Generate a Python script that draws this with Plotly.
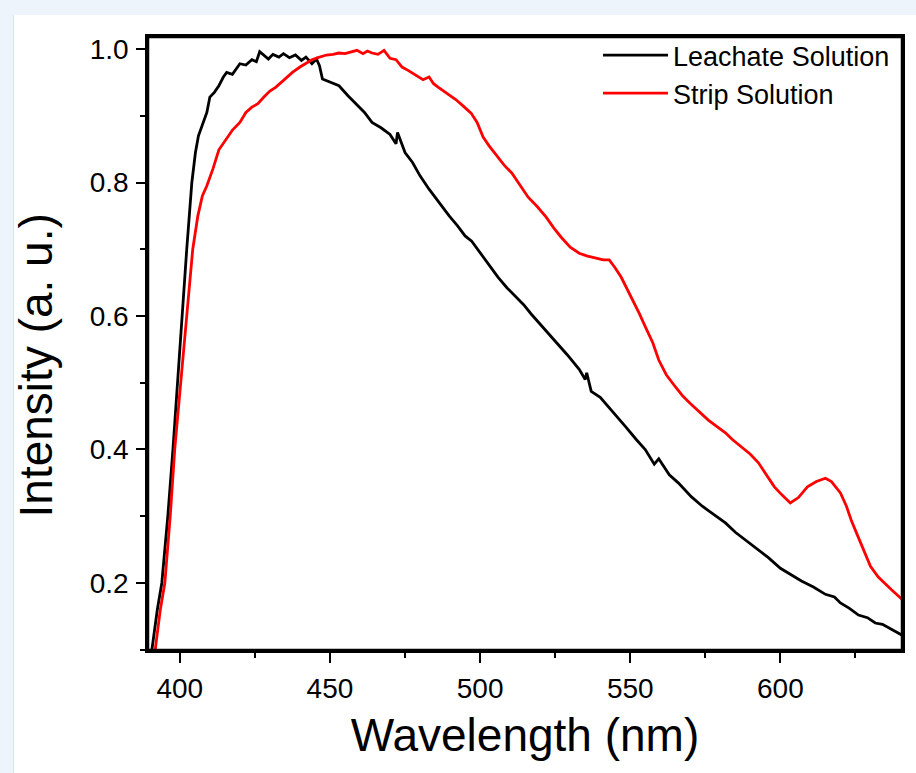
import plotly.graph_objects as go

# ---- data ----
lam_leach = [390.7, 392.5, 394, 396, 397.7, 399.2, 400.7, 402.3, 404, 405.2, 406.2, 407.5, 409, 410,
             411.5, 413, 414.5, 415.6, 417.5, 420, 422, 424, 425.5, 426.6, 428, 429.5, 431, 433, 434.5,
             436.5, 438.5, 440.5, 442, 444, 445.5, 446.5, 447.5, 450, 453, 456, 458.8, 461.5, 464, 467,
             470, 472, 472.5, 475, 477.5, 480, 483, 486, 489.7, 492.5, 495, 497.2, 500.7, 503, 506, 509,
             512, 514.5, 517, 520, 522.7, 526, 529, 533, 535, 535.5, 537, 540, 544, 548.5, 552, 555, 558,
             559.5, 563, 566, 570.4, 574, 578, 581.7, 585, 589, 592.7, 596, 600, 603.7, 607, 611, 615,
             618, 620, 623, 626, 629, 631.6, 634, 637, 640.4]
int_leach = [0.10, 0.16, 0.20, 0.30, 0.40, 0.50, 0.60, 0.70, 0.80, 0.845, 0.87, 0.885, 0.905, 0.928,
             0.935, 0.945, 0.958, 0.965, 0.962, 0.978, 0.976, 0.984, 0.981, 0.996, 0.99, 0.985, 0.992,
             0.988, 0.993, 0.987, 0.991, 0.983, 0.988, 0.978, 0.985, 0.975, 0.955, 0.95, 0.945, 0.93,
             0.918, 0.905, 0.89, 0.882, 0.872, 0.858, 0.875, 0.845, 0.83, 0.81, 0.79, 0.772, 0.75, 0.735,
             0.72, 0.712, 0.69, 0.675, 0.658, 0.642, 0.628, 0.617, 0.603, 0.588, 0.575, 0.558, 0.542,
             0.52, 0.505, 0.515, 0.487, 0.478, 0.458, 0.434, 0.415, 0.40, 0.378, 0.386, 0.362, 0.35, 0.329,
             0.315, 0.302, 0.29, 0.276, 0.262, 0.249, 0.238, 0.222, 0.212, 0.203, 0.194, 0.183, 0.179,
             0.17, 0.162, 0.152, 0.148, 0.14, 0.138, 0.13, 0.122]

lam_strip = [391.8, 393.5, 395, 396.8, 398.3, 400.3, 402.3, 403.3, 404.3, 406, 407.5, 409, 411, 413,
             415, 417.6, 420, 422, 424, 426, 428, 430, 432, 434, 436, 437.5, 440, 442, 444, 446, 448.8,
             451, 453, 455, 457, 459, 461, 462.5, 464, 466, 468, 470, 472, 474, 476, 478, 481, 483,
             484.5, 486, 489, 492, 494.5, 497, 499, 501, 503, 505, 508, 510.6, 513, 516, 519, 522,
             524.5, 527, 530, 533, 535.5, 538.5, 541, 543, 545, 547, 549, 550.5, 553, 555, 557.5,
             559.5, 562, 565, 567.5, 570, 573, 576, 579, 581.7, 584, 587, 590, 592.7, 595, 598, 600.5,
             603.3, 606, 609, 612, 615, 617, 620, 622, 623.6, 626, 628, 630, 632.6, 635, 637, 640.4]
int_strip = [0.10, 0.16, 0.20, 0.30, 0.40, 0.50, 0.60, 0.65, 0.70, 0.75, 0.78, 0.795, 0.82, 0.849,
             0.862, 0.879, 0.89, 0.905, 0.913, 0.918, 0.928, 0.937, 0.943, 0.951, 0.958, 0.965, 0.973,
             0.978, 0.984, 0.987, 0.991, 0.992, 0.994, 0.993, 0.996, 0.998, 0.993, 0.997, 0.994,
             0.992, 0.998, 0.986, 0.984, 0.973, 0.968, 0.962, 0.954, 0.958, 0.948, 0.943, 0.934,
             0.924, 0.914, 0.904, 0.89, 0.868, 0.855, 0.844, 0.826, 0.814, 0.798, 0.778, 0.764, 0.748,
             0.732, 0.718, 0.703, 0.694, 0.69, 0.687, 0.684, 0.684, 0.672, 0.658, 0.64, 0.628, 0.604,
             0.584, 0.56, 0.534, 0.512, 0.494, 0.48, 0.469, 0.456, 0.444, 0.434, 0.425, 0.415, 0.404,
             0.393, 0.38, 0.365, 0.344, 0.332, 0.32, 0.328, 0.344, 0.352, 0.357, 0.352, 0.335, 0.315,
             0.294, 0.268, 0.245, 0.225, 0.209, 0.198, 0.19, 0.176]

x_ticks = [400, 450, 500, 550, 600]
y_ticks = [0.2, 0.4, 0.6, 0.8, 1.0]

FONT = "Liberation Sans, Arial, sans-serif"

fig = go.Figure()
fig.add_trace(go.Scatter(x=lam_leach, y=int_leach, mode="lines", name="Leachate Solution",
                         line=dict(color="black", width=2.8)))
fig.add_trace(go.Scatter(x=lam_strip, y=int_strip, mode="lines", name="Strip Solution",
                         line=dict(color="#ff0000", width=2.8)))

L, R, T, B = 148, 11, 37, 123
W, H = 916, 773
pw, ph = W - L - R, H - T - B


def px2x(p):
    return (p - L) / pw


def px2y(p):
    return (H - B - p) / ph


fig.update_layout(
    width=W, height=H,
    margin=dict(l=L, r=R, t=T, b=B),
    paper_bgcolor="#eef4fb",
    plot_bgcolor="white",
    font=dict(family=FONT, color="black"),
    showlegend=True,
    legend=dict(x=px2x(898), xanchor="right", y=px2y(31), yanchor="top", bgcolor="rgba(0,0,0,0)",
                font=dict(size=27, family=FONT), borderwidth=0, tracegroupgap=0,
                itemwidth=65),
    shapes=[
        dict(type="rect", xref="paper", yref="paper", layer="below",
             x0=px2x(13), x1=px2x(W + 5), y0=px2y(15), y1=px2y(H + 5),
             fillcolor="white", line=dict(width=0)),
        dict(type="line", xref="paper", yref="paper", layer="below",
             x0=px2x(13), x1=px2x(13), y0=px2y(15), y1=px2y(H + 5),
             line=dict(color="#dbe4f0", width=1)),
        dict(type="rect", xref="paper", yref="paper", layer="above",
             x0=0, x1=1, y0=0, y1=1, line=dict(color="black", width=2.5)),
    ],
    annotations=[dict(text="Intensity (a. u.)", xref="paper", yref="paper",
                      x=px2x(36), y=px2y(365), textangle=-90, showarrow=False,
                      font=dict(size=46, family=FONT), xanchor="center", yanchor="middle")],
)

fig.update_xaxes(
    range=[389.4, 640.5], tickvals=x_ticks, showgrid=False, zeroline=False,
    showline=True, linecolor="black", linewidth=2.5, mirror=True,
    ticks="outside", ticklen=10, tickwidth=2, tickcolor="black",
    tickfont=dict(size=28, family=FONT), ticklabelstandoff=2,
    minor=dict(ticks="outside", ticklen=5, tickwidth=2, tickcolor="black", dtick=25, tick0=375),
    title=dict(text="Wavelength (nm)", font=dict(size=46, family=FONT), standoff=16),
)
fig.update_yaxes(
    range=[0.0996, 1.018], tickvals=y_ticks, tickformat=".1f", showgrid=False, zeroline=False,
    showline=True, linecolor="black", linewidth=2.5, mirror=True,
    ticks="outside", ticklen=9, tickwidth=2, tickcolor="black",
    tickfont=dict(size=28, family=FONT), ticklabelstandoff=2,
    minor=dict(ticks="outside", ticklen=5, tickwidth=2, tickcolor="black", dtick=0.1, tick0=0),
)

fig.write_html("out.html", config=dict(displayModeBar=False),
               post_script="document.body.style.margin='0';document.body.style.overflow='hidden';")
